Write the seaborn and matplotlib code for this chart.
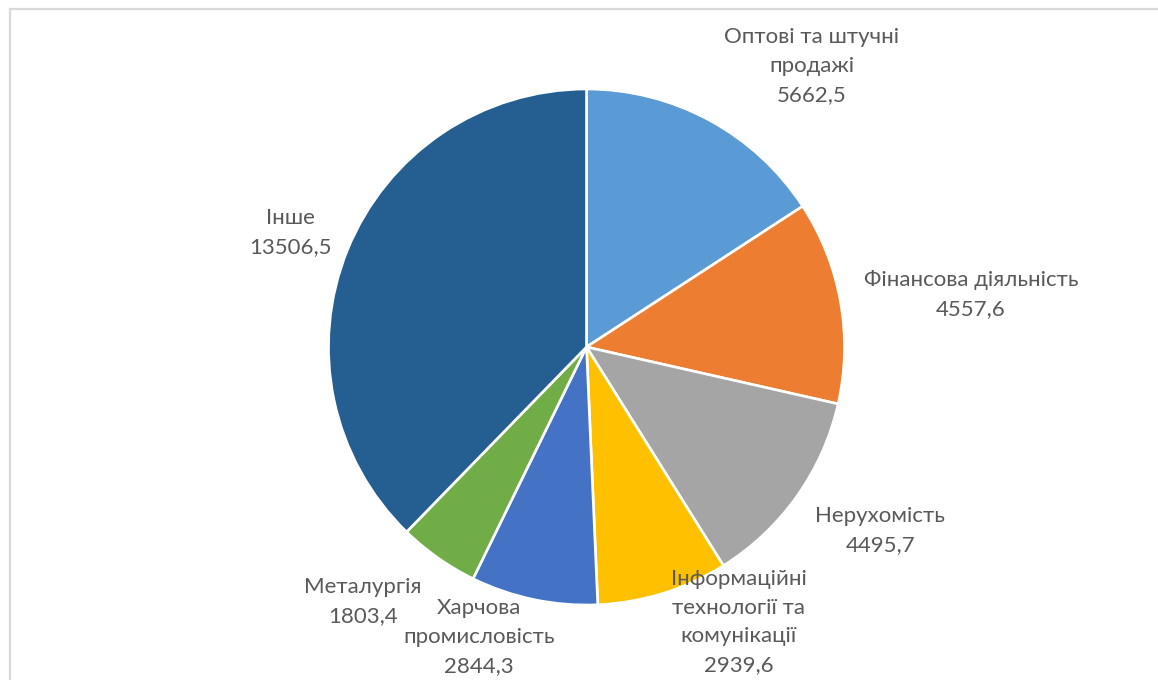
import matplotlib
matplotlib.use("Agg")
import matplotlib.pyplot as plt
from matplotlib.patches import Rectangle
import seaborn as sns

# Sector names and values
sectors = [
    "Оптові та штучні\nпродажі",
    "Фінансова діяльність",
    "Нерухомість",
    "Інформаційні\nтехнології та\nкомунікації",
    "Харчова\nпромисловість",
    "Металургія",
    "Інше",
]
values = [5662.5, 4557.6, 4495.7, 2939.6, 2844.3, 1803.4, 13506.5]
slice_colors = ["#5B9BD5", "#ED7D31", "#A5A5A5", "#FFC000", "#4472C4", "#70AD47", "#255E91"]

# Label anchor points, in units of the pie radius
label_xy = [
    (0.874, 1.089),
    (1.490, 0.203),
    (1.138, -0.711),
    (0.591, -1.066),
    (-0.417, -1.124),
    (-0.866, -0.986),
    (-1.149, 0.444),
]

sns.set_theme(style="white")
plt.rcParams["font.family"] = ["Lato", "DejaVu Sans"]

W, H, DPI = 1158, 680, 100
R_PX = 258.0
CX, CY = 586.5, 347.0

fig = plt.figure(figsize=(W / DPI, H / DPI), dpi=DPI)
fig.patch.set_facecolor("white")
ax = fig.add_axes([0, 0, 1, 1])

palette = sns.color_palette(slice_colors)
ax.pie(
    values,
    colors=palette,
    startangle=90,
    counterclock=False,
    radius=1.0,
    wedgeprops=dict(edgecolor="white", linewidth=1.9),
)

for name, val, (lx, ly) in zip(sectors, values, label_xy):
    txt = f"{name}\n{val:.1f}".replace(".", ",")
    ax.text(lx, ly, txt, ha="center", va="center", fontsize=16,
            color="#595959", linespacing=1.55)

ax.set_xlim(-CX / R_PX, (W - CX) / R_PX)
ax.set_ylim((CY - H) / R_PX, CY / R_PX)
ax.set_aspect("equal")
ax.axis("off")

# Light frame around the chart area
fig.add_artist(Rectangle((9.5 / W, -0.1), 1.2, (H - 9.5) / H + 0.1,
                         transform=fig.transFigure, fill=False,
                         edgecolor="#D9D9D9", linewidth=1.6))

fig.savefig("out.png", dpi=DPI, facecolor="white")
